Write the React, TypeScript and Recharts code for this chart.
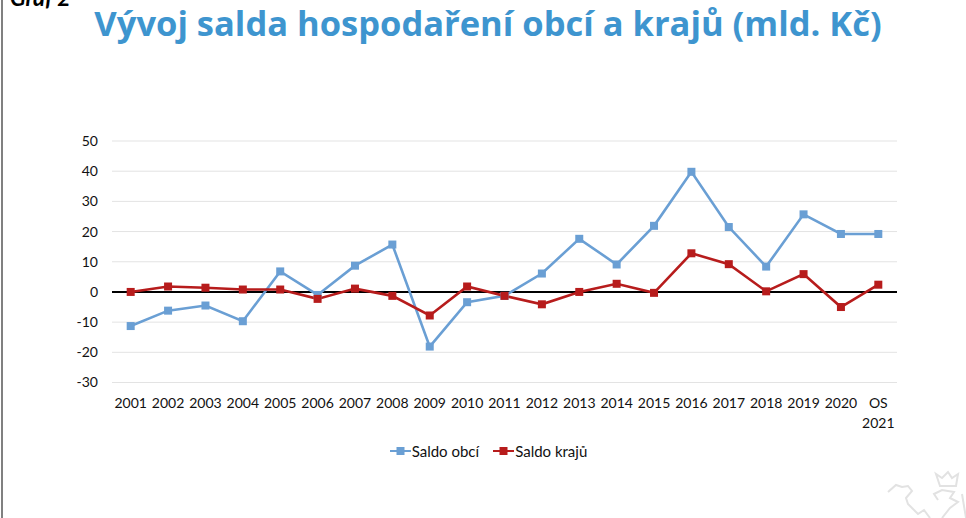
import { LineChart, Line, XAxis, YAxis, CartesianGrid, ReferenceLine, Legend } from 'recharts';

const years = ['2001', '2002', '2003', '2004', '2005', '2006', '2007', '2008', '2009', '2010', '2011', '2012', '2013', '2014', '2015', '2016', '2017', '2018', '2019', '2020', 'OS 2021'];
const saldoObci = [-11.3, -6.2, -4.5, -9.7, 6.8, -1, 8.7, 15.7, -18.1, -3.4, -1.3, 6.1, 17.6, 9.1, 21.9, 39.8, 21.5, 8.4, 25.7, 19.2, 19.2];
const saldoKraju = [0, 1.8, 1.4, 0.8, 0.8, -2.3, 1.1, -1.3, -7.8, 1.8, -1.3, -4.1, 0, 2.7, -0.3, 12.8, 9.2, 0.2, 5.9, -5, 2.4];
const yTicks = [-30, -20, -10, 0, 10, 20, 30, 40, 50];

const data = years.map((year, i) => ({ year, obce: saldoObci[i], kraje: saldoKraju[i] }));

const BLUE = '#6A9FD4';
const RED = '#B71C1C';
const FONT = 'Lato, "Open Sans", sans-serif';

function SquareDot({ cx, cy, stroke }: any) {
    return <rect x={cx - 4} y={cy - 4} width={8} height={8} fill={stroke} />;
}

function YearTick({ x, y, payload }: any) {
    const lines = String(payload.value).split(' ');
    return (
        <text x={x} y={y} textAnchor="middle" fontSize={14} fontFamily={FONT} fill="#111">
            {lines.map((line, i) => (
                <tspan key={line} x={x} dy={i === 0 ? 17 : 20}>{line}</tspan>
            ))}
        </text>
    );
}

function LegendRow({ payload }: any) {
    return (
        <div style={{ display: 'flex', justifyContent: 'center', gap: 14, fontFamily: FONT, fontSize: 15, color: '#111' }}>
            {(payload ?? []).map((entry: any) => (
                <div key={entry.value} style={{ display: 'flex', alignItems: 'center', gap: 1 }}>
                    <svg width={21} height={8}>
                        <line x1={0} x2={21} y1={4} y2={4} stroke={entry.color} strokeWidth={2} />
                        <rect x={6.5} y={0} width={8} height={8} fill={entry.color} />
                    </svg>
                    <span>{entry.value}</span>
                </div>
            ))}
        </div>
    );
}

export default function App() {
    return (
        <div style={{ position: 'absolute', left: 0, top: 0, width: 966, height: 518, overflow: 'hidden', background: '#fff' }}>
            <div style={{ position: 'absolute', left: 1, top: 0, width: 2, height: 518, background: '#808080' }} />
            <div style={{ position: 'absolute', left: 10, top: -17, fontFamily: 'Lato, sans-serif', fontWeight: 700, fontStyle: 'italic', fontSize: 23, color: '#000' }}>Graf 2</div>
            <div style={{ position: 'absolute', left: 0, width: 976, top: -1, textAlign: 'center', fontFamily: '"Open Sans", sans-serif', fontWeight: 700, fontSize: 34.5, color: '#3E95CF', whiteSpace: 'nowrap' }}>
                Vývoj salda hospodaření obcí a krajů (mld. Kč)
            </div>
            <LineChart width={966} height={518} data={data} margin={{ top: 141, right: 69, bottom: 0, left: 0 }} style={{ position: 'absolute', left: 0, top: 0 }}>
                <CartesianGrid horizontal vertical={false} stroke="#E3E3E3" strokeWidth={1} />
                <XAxis dataKey="year" scale="band" interval={0} height={117.5} axisLine={false} tickLine={false} tick={<YearTick />} />
                <YAxis width={112} domain={[-30, 50]} ticks={yTicks} axisLine={false} tickLine={false} tickMargin={8} tick={{ fontSize: 14, fontFamily: FONT, fill: '#111' }} />
                <ReferenceLine y={0} stroke="#000" strokeWidth={2} />
                <Legend verticalAlign="bottom" itemSorter={null} wrapperStyle={{ left: 0, width: 977, top: 442 }} content={<LegendRow />} />
                <Line dataKey="obce" name="Saldo obcí" stroke={BLUE} strokeWidth={2.6} dot={<SquareDot />} activeDot={false} isAnimationActive={false} />
                <Line dataKey="kraje" name="Saldo krajů" stroke={RED} strokeWidth={2.6} dot={<SquareDot />} activeDot={false} isAnimationActive={false} />
            </LineChart>
            <svg width={120} height={60} style={{ position: 'absolute', left: 846, top: 458 }} fill="none" stroke="#E2E2E2" strokeWidth={2}>
                <path d="M42 34 L50 27 L56 29 L62 28 L66 33 L60 40 L62 46 L72 56 L78 52 L84 60" />
                <path d="M92 42 L88 36 L96 32 L108 34 L104 40 L112 44 L104 50 L96 60" />
                <path d="M94 28 L90 16 L96 20 L102 14 L106 20 L112 16 L110 28 Z" />
                <path d="M116 36 L120 60" />
            </svg>
        </div>
    );
}
